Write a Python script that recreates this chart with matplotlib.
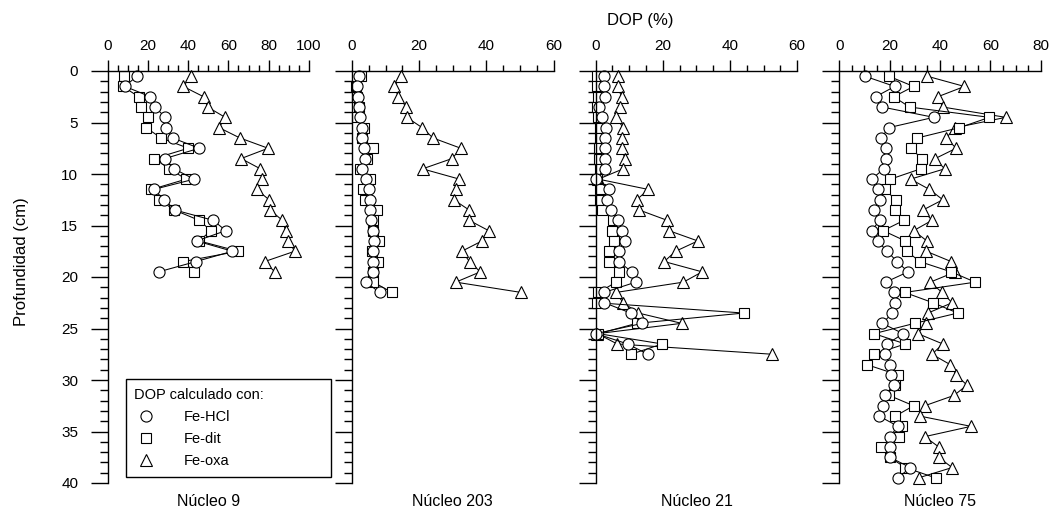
import matplotlib
matplotlib.use("Agg")
import matplotlib.pyplot as plt
from matplotlib.ticker import MultipleLocator
from matplotlib.lines import Line2D

plt.rcParams['font.family'] = ['Liberation Sans', 'DejaVu Sans']

# ---------------- data ----------------
cores = ["Núcleo 9", "Núcleo 203", "Núcleo 21", "Núcleo 75"]
xmax = [100, 60, 60, 80]
xticks_major = [[0, 20, 40, 60, 80, 100], [0, 20, 40, 60], [0, 20, 40, 60], [0, 20, 40, 60, 80]]

depth9 = [0.5, 1.5, 2.5, 3.5, 4.5, 5.5, 6.5, 7.5, 8.5, 9.5, 10.5, 11.5, 12.5, 13.5,
          14.5, 15.5, 16.5, 17.5, 18.5, 19.5]
hcl9 = [14.5, 8.7, 21.3, 23.6, 28.7, 28.9, 32.3, 45.5, 28.5, 33.0, 43.0, 22.9, 28.2, 33.5,
        52.5, 58.7, 44.2, 62.0, 43.9, 25.4]
dit9 = [8.3, 7.6, 15.5, 16.7, 20.0, 19.1, 26.6, 40.1, 23.3, 30.7, 39.0, 21.8, 25.7, 33.2,
        45.5, 51.3, 45.5, 64.9, 37.6, 43.1]
oxa9 = [41.4, 37.6, 47.7, 49.7, 58.4, 55.4, 65.7, 79.7, 66.3, 75.9, 76.9, 74.0, 80.2, 80.7,
        86.8, 88.4, 89.8, 92.9, 78.0, 83.0]

depth203 = [0.5, 1.5, 2.5, 3.5, 4.5, 5.5, 6.5, 7.5, 8.5, 9.5, 10.5, 11.5, 12.5, 13.5,
            14.5, 15.5, 16.5, 17.5, 18.5, 19.5, 20.5, 21.5]
hcl203 = [2.0, 1.5, 1.7, 2.1, 2.5, 3.0, 3.1, 3.5, 4.0, 3.1, 4.3, 5.0, 5.3, 5.5,
          5.7, 6.2, 6.6, 6.4, 6.3, 6.4, 4.2, 8.2]
dit203 = [2.7, 1.2, 1.5, 2.0, 1.5, 3.7, 3.0, 6.4, 4.6, 2.3, 5.5, 3.3, 4.0, 7.4,
          6.4, 6.4, 8.0, 6.0, 7.6, 6.2, 6.4, 11.9]
oxa203 = [14.7, 12.6, 13.8, 16.2, 16.3, 20.9, 24.1, 32.4, 29.8, 21.0, 32.0, 31.0, 30.3, 34.9,
          34.9, 40.7, 38.7, 32.7, 35.0, 38.2, 30.9, 50.4]

depth21 = [0.5, 1.5, 2.5, 3.5, 4.5, 5.5, 6.5, 7.5, 8.5, 9.5, 10.5, 11.5, 12.5, 13.5,
           14.5, 15.5, 16.5, 17.5, 18.5, 19.5, 20.5, 21.5, 22.5, 23.5, 24.5, 25.5, 26.5, 27.5]
hcl21 = [2.6, 2.6, 2.8, 1.1, 1.8, 3.1, 2.8, 2.8, 2.8, 2.8, 0.0, 4.1, 3.5, 4.5,
         6.7, 7.7, 8.7, 6.9, 6.9, 10.7, 11.9, 2.5, 2.6, 10.4, 13.9, 0.1, 9.5, 15.5]
dit21 = [0.5, 0.5, 0.8, 0.3, 0.8, 1.3, 1.3, 1.1, 1.1, 1.3, 0.3, 1.3, 1.3, 2.0,
         5.3, 5.0, 5.5, 4.1, 4.1, 7.0, 6.1, 0.8, 0.5, 44.1, 12.2, 0.8, 19.8, 10.5]
oxa21 = [6.5, 6.5, 7.7, 7.2, 6.0, 8.2, 7.7, 7.7, 8.7, 8.2, 0.8, 15.7, 12.2, 13.0,
         21.3, 21.8, 30.4, 23.8, 20.4, 31.7, 26.1, 6.0, 8.2, 12.7, 25.6, 0.5, 6.4, 52.6]

depth75 = [0.5, 1.5, 2.5, 3.5, 4.5, 5.5, 6.5, 7.5, 8.5, 9.5, 10.5, 11.5, 12.5, 13.5,
           14.5, 15.5, 16.5, 17.5, 18.5, 19.5, 20.5, 21.5, 22.5, 23.5, 24.5, 25.5, 26.5,
           27.5, 28.5, 29.5, 30.5, 31.5, 32.5, 33.5, 34.5, 35.5, 36.5, 37.5, 38.5, 39.5]
hcl75 = [10.1, 22.0, 14.4, 17.1, 37.5, 19.6, 16.7, 18.4, 18.4, 17.7, 12.8, 15.2, 16.3, 13.7,
         16.1, 12.8, 15.2, 19.0, 22.9, 27.3, 18.4, 21.6, 22.3, 21.1, 17.1, 25.3, 19.1,
         18.3, 20.0, 20.7, 21.6, 18.0, 17.4, 15.8, 23.3, 20.0, 20.0, 20.0, 28.2, 23.3]
dit75 = [19.6, 29.5, 21.6, 27.9, 59.6, 47.7, 31.0, 28.3, 32.8, 32.3, 20.3, 18.1, 22.4, 22.0,
         25.7, 17.4, 26.2, 26.9, 31.9, 44.4, 54.0, 26.0, 37.2, 47.0, 29.9, 13.8, 26.2,
         13.7, 10.8, 23.3, 22.0, 19.8, 29.5, 22.3, 24.9, 23.6, 16.7, 20.0, 26.2, 38.2]
oxa75 = [34.8, 49.7, 39.1, 41.1, 66.1, 46.1, 42.4, 46.4, 38.1, 41.8, 28.3, 35.8, 41.1, 33.2,
         36.8, 29.5, 34.8, 34.5, 44.4, 46.1, 36.1, 40.8, 44.8, 35.2, 34.3, 31.2, 41.1,
         36.8, 44.0, 46.4, 50.7, 45.5, 33.9, 31.9, 52.3, 33.9, 39.5, 39.4, 44.8, 31.5]

depths = [depth9, depth203, depth21, depth75]
hcl = [hcl9, hcl203, hcl21, hcl75]
dit = [dit9, dit203, dit21, dit75]
oxa = [oxa9, oxa203, oxa21, oxa75]

series_labels = ["Fe-HCl", "Fe-dit", "Fe-oxa"]
legend_title = "DOP calculado con:"

# ---------------- layout ----------------
W, H = 1051, 512
fig = plt.figure(figsize=(W / 100, H / 100), dpi=100)
lefts = [107.5, 352.0, 595.7, 839.3]
pw = 201.5
top_px, bot_px = 71, 483

mk = dict(mfc='white', mec='black', mew=0.8, color='black', lw=0.75, clip_on=False)

axes = []
for i in range(4):
    ax = fig.add_axes([lefts[i] / W, 1 - bot_px / H, pw / W, (bot_px - top_px) / H])
    axes.append(ax)
    ax.plot(oxa[i], depths[i], marker='^', ms=8.5, **mk)
    ax.plot(dit[i], depths[i], marker='s', ms=7, **mk)
    ax.plot(hcl[i], depths[i], marker='o', ms=8, **mk)
    ax.set_xlim(0, xmax[i])
    ax.set_ylim(40, 0)
    ax.xaxis.tick_top()
    ax.set_xticks(xticks_major[i])
    ax.xaxis.set_minor_locator(MultipleLocator(5))
    ax.yaxis.set_major_locator(MultipleLocator(5))
    ax.yaxis.set_minor_locator(MultipleLocator(1))
    for s in ['bottom', 'right']:
        ax.spines[s].set_visible(False)
    for s in ['top', 'left']:
        ax.spines[s].set_linewidth(1.0)
    ax.tick_params(axis='x', which='major', direction='out', length=8, width=1.0,
                   labelsize=11, pad=5)
    ax.tick_params(axis='x', which='minor', direction='out', length=4.5, width=1.0)
    ax.tick_params(axis='y', which='major', direction='out', length=12, width=1.0,
                   labelsize=11, pad=9)
    ax.tick_params(axis='y', which='minor', direction='out', length=6, width=1.0)
    if i > 0:
        ax.tick_params(axis='y', labelleft=False)
    fig.text((lefts[i] + pw / 2) / W, 1 - 502 / H, cores[i], ha='center', va='center',
             fontsize=11.5)

fig.text(640 / W, 1 - 21 / H, "DOP (%)", ha='center', va='center', fontsize=12)
fig.text(22 / W, 1 - 262 / H, "Profundidad (cm)", ha='center', va='center',
         rotation=90, fontsize=12)

handles = [Line2D([], [], ls='none', marker='o', ms=8, mfc='white', mec='black', mew=0.8),
           Line2D([], [], ls='none', marker='s', ms=7, mfc='white', mec='black', mew=0.8),
           Line2D([], [], ls='none', marker='^', ms=8.5, mfc='white', mec='black', mew=0.8)]
ax0 = axes[0]
leg = ax0.legend(handles, series_labels, title=legend_title, loc='lower left',
                 bbox_to_anchor=((125.7 - lefts[0]) / pw, (bot_px - 477) / (bot_px - top_px),
                                 205 / pw, 0.2), mode='expand', borderaxespad=0,
                 fontsize=10.5, title_fontsize=10.5, alignment='left', frameon=True,
                 fancybox=False, edgecolor='black', framealpha=1, handlelength=1.6,
                 handletextpad=1.8, labelspacing=0.55, borderpad=0.6)
leg.get_frame().set_linewidth(1.0)
leg.set_zorder(10)

fig.savefig("out.png", dpi=100)
